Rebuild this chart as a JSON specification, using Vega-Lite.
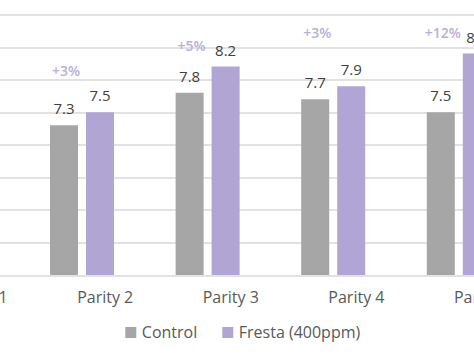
{
  "$schema": "https://vega.github.io/schema/vega-lite/v6.json",
  "autosize": {"type": "none"},
  "padding": {"left": -83.2, "right": -70.8, "top": 14.5, "bottom": 81},
  "width": 628,
  "height": 260.5,
  "background": "white",
  "config": {
    "view": {"stroke": null},
    "font": "Open Sans"
  },
  "datasets": {
    "bars": [
      {"parity": "Parity 2", "series": "Control", "value": 7.3},
      {"parity": "Parity 2", "series": "Fresta (400ppm)", "value": 7.5},
      {"parity": "Parity 3", "series": "Control", "value": 7.8},
      {"parity": "Parity 3", "series": "Fresta (400ppm)", "value": 8.2},
      {"parity": "Parity 4", "series": "Control", "value": 7.7},
      {"parity": "Parity 4", "series": "Fresta (400ppm)", "value": 7.9},
      {"parity": "Parity 5", "series": "Control", "value": 7.5},
      {"parity": "Parity 5", "series": "Fresta (400ppm)", "value": 8.4}
    ],
    "pct": [
      {"parity": "Parity 2", "series": "Control", "label": "+3%", "at": 8.12},
      {"parity": "Parity 3", "series": "Control", "label": "+5%", "at": 8.5},
      {"parity": "Parity 4", "series": "Control", "label": "+3%", "at": 8.7},
      {"parity": "Parity 5", "series": "Control", "label": "+12%", "at": 8.7}
    ]
  },
  "encoding": {
    "x": {
      "field": "parity", "type": "nominal",
      "scale": {"domain": ["Parity 1", "Parity 2", "Parity 3", "Parity 4", "Parity 5"], "paddingInner": 0, "paddingOuter": 0},
      "axis": {"title": null, "ticks": false, "domain": false, "grid": false, "labelAngle": 0, "labelFontSize": 16, "labelColor": "#595959", "labelPadding": 14}
    },
    "xOffset": {
      "field": "series", "type": "nominal",
      "scale": {"domain": ["Control", "Fresta (400ppm)"], "paddingInner": 0.222, "paddingOuter": 0.8556, "align": 0.1234}
    },
    "y": {
      "type": "quantitative",
      "scale": {"domain": [5, 9], "zero": false, "nice": false},
      "axis": {"title": null, "labels": false, "ticks": false, "domain": false, "values": [5, 5.5, 6, 6.5, 7, 7.5, 8, 8.5, 9], "gridColor": "#d9d9d9", "gridWidth": 1.5}
    }
  },
  "layer": [
    {
      "data": {"name": "bars"},
      "mark": {"type": "bar", "clip": true},
      "encoding": {
        "y": {"field": "value", "type": "quantitative"},
        "color": {
          "field": "series", "type": "nominal",
          "scale": {"domain": ["Control", "Fresta (400ppm)"], "range": ["#a6a6a6", "#b1a5d3"]},
          "legend": {
            "title": null, "orient": "none", "direction": "horizontal",
            "legendX": 206, "legendY": 310,
            "symbolType": "square", "symbolSize": 121, "symbolStrokeWidth": 0, "symbolOpacity": 1,
            "labelFontSize": 16, "labelColor": "#595959", "labelOffset": 3, "columnPadding": 22, "padding": 0
          }
        }
      }
    },
    {
      "data": {"name": "bars"},
      "mark": {"type": "text", "baseline": "middle", "dy": -16, "fontSize": 15, "color": "#404040"},
      "encoding": {
        "y": {"field": "value", "type": "quantitative"},
        "text": {"field": "value", "type": "quantitative", "format": ".1f"}
      }
    },
    {
      "data": {"name": "pct"},
      "mark": {"type": "text", "baseline": "middle", "dx": 2, "fontSize": 14, "fontWeight": 600, "color": "#b9aed9"},
      "encoding": {
        "y": {"field": "at", "type": "quantitative"},
        "text": {"field": "label", "type": "nominal"}
      }
    }
  ]
}
